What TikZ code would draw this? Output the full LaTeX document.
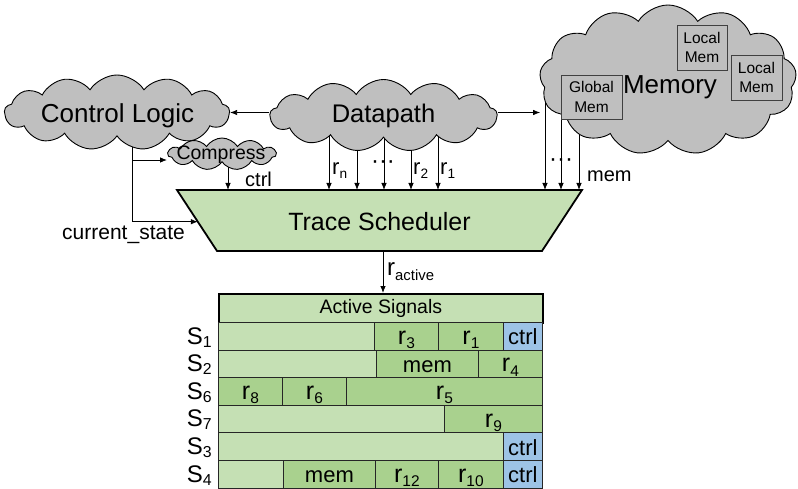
\documentclass[tikz,border=0pt]{standalone}
\usepackage{fontspec}
\setmainfont{Liberation Sans}
\usepackage{graphicx}
\usetikzlibrary{shapes.symbols,arrows.meta,backgrounds,calc}

\definecolor{cloudgray}{HTML}{BFBFBF}
\definecolor{lightgreen}{HTML}{C5E0B4}
\definecolor{midgreen}{HTML}{A9D18E}
\definecolor{softblue}{HTML}{9DC3E6}

\newcommand\fs[1]{\fontsize{#1}{#1}\selectfont}
% r with a lowered, smaller index
\newcommand\rsub[2]{r\raisebox{-#2}{\scalebox{0.62}{#1}}}
% row label S with index
\newcommand\slab[1]{S\raisebox{-3pt}{\scalebox{0.66}{#1}}}

\begin{document}
\begin{tikzpicture}[x=1pt,y=-1pt,
  cloudnode/.style={cloud, cloud puffs=#1, cloud puff arc=115, cloud ignores aspect,
    draw=black, line width=0.9pt, fill=cloudgray, inner sep=0pt},
  arr/.style={-{Latex[length=7pt,width=5.5pt]}, line width=0.8pt},
  wire/.style={line width=0.8pt},
  membox/.style={draw=black!75, line width=0.8pt, fill=cloudgray, inner sep=0pt,
    align=center, font=\fontsize{15.5}{19.5}\selectfont},
  trap/.style={draw=black, line width=1.8pt, fill=lightgreen, line join=miter},
  cell/.style={draw=black!85, line width=0.8pt, anchor=north west, minimum height=27.6pt,
    inner sep=0pt, text height=17pt, text depth=0pt, font=\fs{22}},
  rcell/.style={cell, text height=16pt, font=\fs{25}},
  rowlab/.style={anchor=base east, inner sep=0pt, font=\fs{24}},
  lab/.style={inner sep=0pt, font=\fs{20}},
]
\path[use as bounding box] (0,0) rectangle (798,489);

% ---- clouds ----
\node[cloudnode=13, minimum width=225pt, minimum height=75pt] (cl) at (117,112.5) {};
\node[font=\fs{26}, inner sep=0pt] (cltxt) at (117.5,115.5) {Control Logic};
\node[cloudnode=11, minimum width=108pt, minimum height=32pt] (cmp) at (222,154) {};
\node[font=\fs{19.5}, inner sep=0pt] (cmptxt) at (221,155) {Compress};
\node[cloudnode=13, minimum width=227pt, minimum height=72pt] (dp) at (383.5,115.5) {};
\node[font=\fs{25.5}, inner sep=0pt] (dptxt) at (383.5,115.5) {Datapath};
\node[cloudnode=13, minimum width=257pt, minimum height=150pt] (mem) at (668,80) {};
\node[font=\fs{26}, inner sep=0pt] (memtxt) at (670,87.4) {Memory};

% memory blocks
\node[membox, minimum width=61pt, minimum height=44pt] (gmem) at (591.5,97) {Global\\Mem};
\node[membox, minimum width=50pt, minimum height=45pt] (lmem1) at (702,47.5) {Local\\Mem};
\node[membox, minimum width=51pt, minimum height=45pt] (lmem2) at (756.5,77.5) {Local\\Mem};

% ---- trace scheduler ----
\coordinate (tstl) at (177,190);
\coordinate (tstr) at (582,190);
\coordinate (tsbr) at (542,251);
\coordinate (tsbl) at (217,251);
\draw[trap] (tstl) -- (tstr) -- (tsbr) -- (tsbl) -- cycle;
\node[font=\fs{25}, inner sep=0pt] (ts) at (379.5,222) {Trace Scheduler};
\coordinate (tsin) at ($(tstl)!0.52!(tsbl)$);

% ---- active signals table ----
\node[draw=black, line width=1.8pt, fill=lightgreen, anchor=north west, minimum width=324pt,
  minimum height=29pt, inner sep=0pt, font=\fs{19.5}] (hdr) at (218,293) {Active Signals};

% S1
\node[cell, fill=lightgreen, minimum width=156pt] (a1) at (218,322) {};
\node[rcell, fill=midgreen, minimum width=64pt] (a2) at (374,322) {\rsub{3}{4.5pt}};
\node[rcell, fill=midgreen, minimum width=65pt] (a3) at (438,322) {\rsub{1}{4.5pt}};
\node[cell, fill=softblue, minimum width=39pt] (a4) at (503,322) {ctrl};
% S2
\node[cell, fill=lightgreen, minimum width=158pt] (b1) at (218,349.6) {};
\node[cell, fill=midgreen, minimum width=102pt] (b2) at (376,349.6) {mem};
\node[rcell, fill=midgreen, minimum width=64pt] (b3) at (478,349.6) {\rsub{4}{4.5pt}};
% S6
\node[rcell, fill=midgreen, minimum width=64pt] (c1) at (218,377.2) {\rsub{8}{4.5pt}};
\node[rcell, fill=midgreen, minimum width=64pt] (c2) at (282,377.2) {\rsub{6}{4.5pt}};
\node[rcell, fill=midgreen, minimum width=196pt] (c3) at (346,377.2) {\rsub{5}{4.5pt}};
% S7
\node[cell, fill=lightgreen, minimum width=226pt] (d1) at (218,404.8) {};
\node[rcell, fill=midgreen, minimum width=98pt] (d2) at (444,404.8) {\rsub{9}{4.5pt}};
% S3
\node[cell, fill=lightgreen, minimum width=285pt] (e1) at (218,432.4) {};
\node[cell, fill=softblue, minimum width=39pt] (e2) at (503,432.4) {ctrl};
% S4
\node[cell, fill=lightgreen, minimum width=65pt] (f1) at (218,460) {};
\node[cell, fill=midgreen, minimum width=92pt] (f2) at (283,460) {mem};
\node[rcell, fill=midgreen, minimum width=63pt] (f3) at (375,460) {\rsub{12}{4.5pt}};
\node[rcell, fill=midgreen, minimum width=65pt] (f4) at (438,460) {\rsub{10}{4.5pt}};
\node[cell, fill=softblue, minimum width=39pt] (f5) at (503,460) {ctrl};

% row labels
\node[rowlab] (l1) at (212,344) {\slab{1}};
\node[rowlab] (l2) at (212,371.6) {\slab{2}};
\node[rowlab] (l3) at (212,399.2) {\slab{6}};
\node[rowlab] (l4) at (212,426.8) {\slab{7}};
\node[rowlab] (l5) at (212,454.4) {\slab{3}};
\node[rowlab] (l6) at (212,482) {\slab{4}};

% ---- connectors ----
\coordinate (clv) at (132,112.5);
\coordinate (brk) at (132,160);
\coordinate (cmpo) at (228,154);
\coordinate (d1o) at (329,116);
\coordinate (d2o) at (357,116);
\coordinate (d3o) at (384,116);
\coordinate (d4o) at (411,116);
\coordinate (d5o) at (438,116);
\coordinate (m1o) at (545,95);
\coordinate (m2o) at (561,95);
\coordinate (m3o) at (579,95);
\coordinate (rao) at (383,251);

\begin{scope}[on background layer]
  \draw[arr] (clv) |- (tsin);
  \draw[arr] (brk) -- (brk -| cmp.west);
  \draw[arr] (cmpo) -- (cmpo |- tstl);
  \foreach \p in {d1o,d2o,d3o,d4o,d5o,m1o,m2o,m3o}
    \draw[arr] (\p) -- (\p |- tstl);
\end{scope}
\draw[arr] (dp.west |- cl.east) -- (cl.east);
\draw[arr] (dp.east |- cl.east) -- (mem.west |- cl.east);
\draw[arr] (rao) -- (rao |- hdr.north);

% ---- signal labels ----
\node[lab, anchor=base west] (ctrllab) at (245,187) {ctrl};
\node[lab, anchor=base east, font=\fs{21}] (cslab) at (185,240) {current\_state};
\node[lab, anchor=base west, font=\fs{22}] (rnlab) at (332,175) {\rsub{n}{4pt}};
\node[lab, font=\fs{24}] (dpdots) at (383,165) {···};
\node[lab, anchor=base west, font=\fs{22}] (r2lab) at (413,175) {\rsub{2}{4pt}};
\node[lab, anchor=base west, font=\fs{22}] (r1lab) at (440,175) {\rsub{1}{4pt}};
\node[lab, font=\fs{24}] (memdots) at (561,163) {···};
\node[lab, anchor=base west] (memlab) at (587,182) {mem};
\node[lab, anchor=base west, font=\fs{24}] (ralab) at (387,276) {\rsub{active}{5pt}};
\end{tikzpicture}
\end{document}
